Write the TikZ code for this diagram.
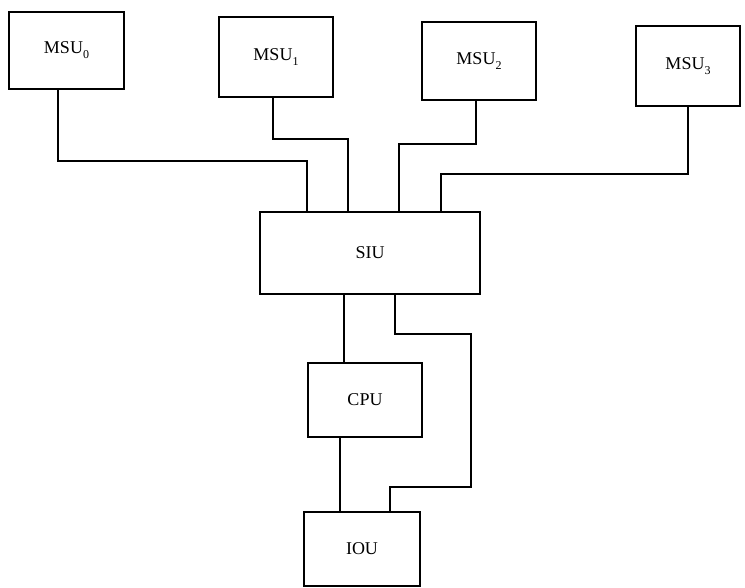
\documentclass[tikz,border=0pt]{standalone}
\usepackage{fontspec}
\setmainfont{Liberation Serif}
\newcommand{\subidx}[1]{\raisebox{-5pt}{\fontsize{12}{12}\selectfont #1}}
\begin{document}
\begin{tikzpicture}[x=1pt,y=-1pt,
  box/.style={draw, line width=2pt, rectangle, inner sep=0pt, font=\fontsize{18}{21}\selectfont},
  link/.style={line width=2pt, line join=miter}]
\useasboundingbox (0,0) rectangle (745,588);
\node[box, minimum width=115, minimum height=77] (m0) at (66.5,50.5) {MSU\subidx{0}};
\node[box, minimum width=114, minimum height=80] (m1) at (276,57) {MSU\subidx{1}};
\node[box, minimum width=114, minimum height=78] (m2) at (479,61) {MSU\subidx{2}};
\node[box, minimum width=104, minimum height=80] (m3) at (688,66) {MSU\subidx{3}};
\node[box, minimum width=220, minimum height=82] (siu) at (370,253) {SIU};
\node[box, line width=2.4pt, minimum width=114, minimum height=74] (cpu) at (365,400) {CPU};
\node[box, minimum width=116, minimum height=74] (iou) at (362,549) {IOU};
\draw[link] ([xshift=-8.5]m0.south) -- ++(0,71) -| ([xshift=-63]siu.north);
\draw[link] ([xshift=-3]m1.south) -- ++(0,41) -| ([xshift=-22]siu.north);
\draw[link] ([xshift=-3]m2.south) -- ++(0,43) -| ([xshift=29]siu.north);
\draw[link] (m3.south) -- ++(0,67) -| ([xshift=71]siu.north);
\draw[link] ([xshift=-26]siu.south) -- ([xshift=-26]siu.south |- cpu.north);
\draw[link] ([xshift=-25]cpu.south) -- ([xshift=-25]cpu.south |- iou.north);
\draw[link] ([xshift=25]siu.south) -- ++(0,39) -- ++(76,0) -- ++(0,153) -- ++(-81,0) -- ([xshift=28]iou.north);
\end{tikzpicture}
\end{document}
